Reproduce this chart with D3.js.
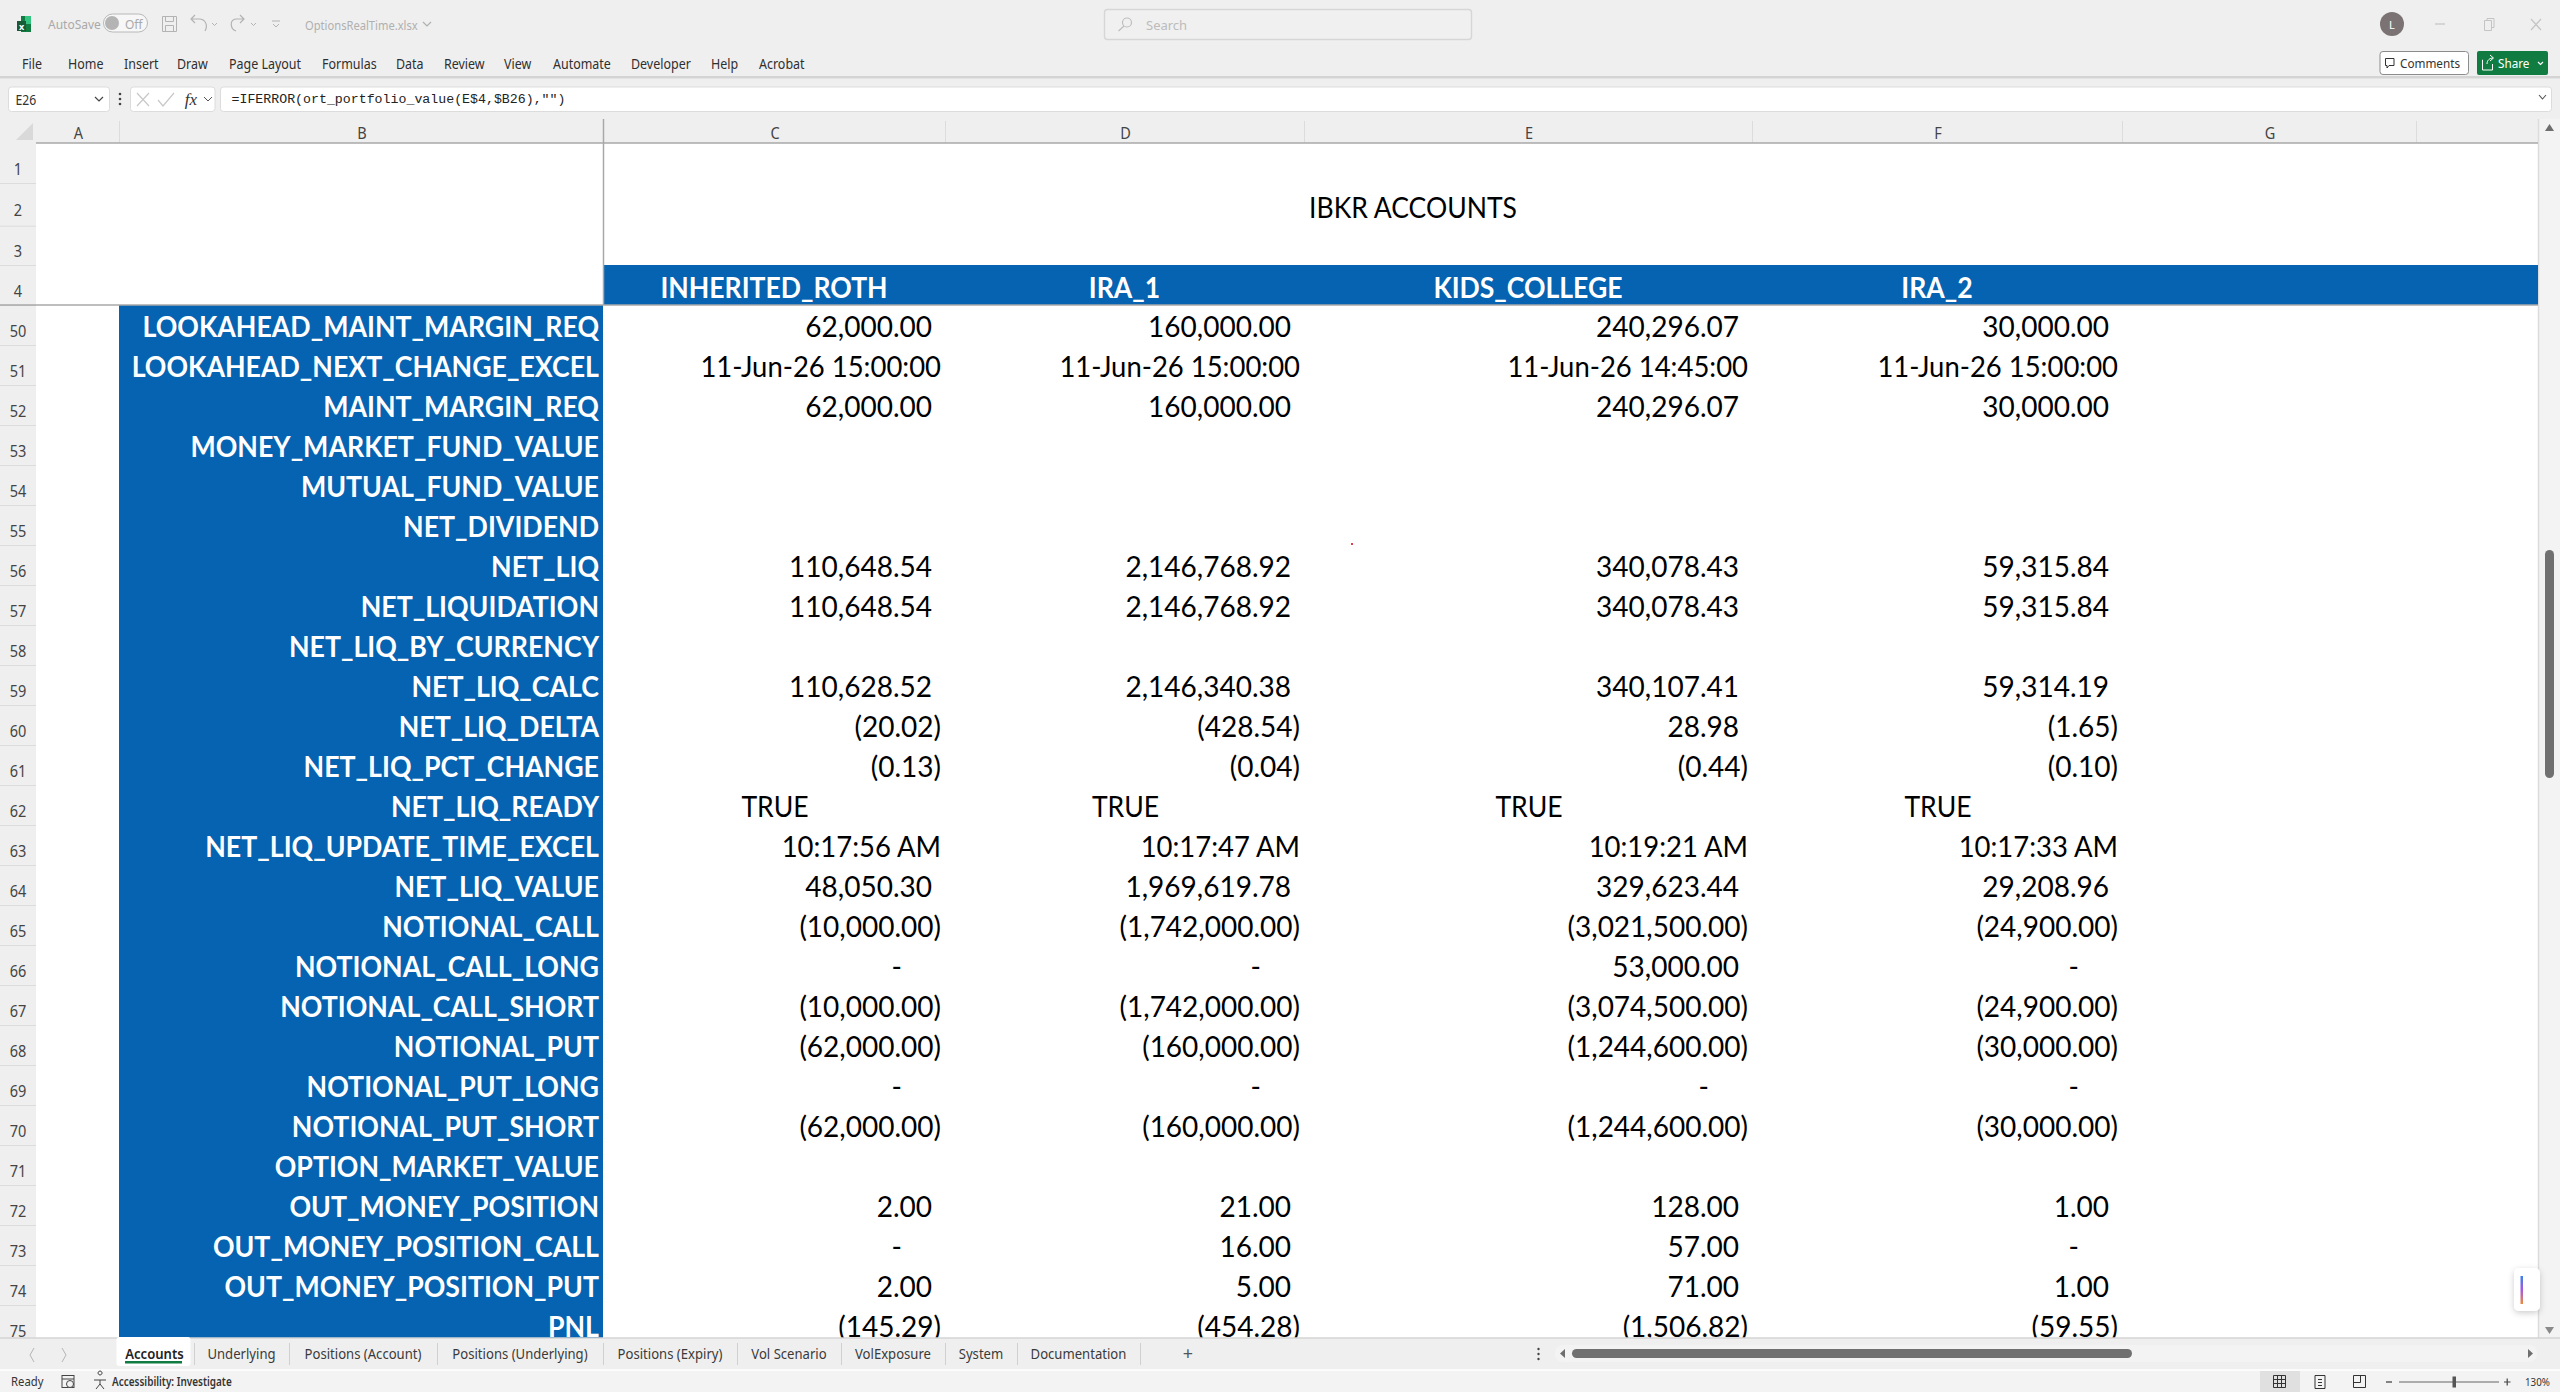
<!DOCTYPE html>
<html>
<head>
<meta charset="utf-8">
<script src="https://cdn.jsdelivr.net/npm/d3@7"></script>
<style>
  html, body { margin: 0; padding: 0; background: #fff; overflow: hidden; }
  svg { display: block; }
  text { font-family: "Noto Sans", sans-serif; }
  text.cell { font-family: Lato, "Liberation Sans", sans-serif; }
  text.mono { font-family: "Liberation Mono", monospace; }
  text.serif { font-family: "Liberation Serif", serif; }
</style>
</head>
<body>
<svg id="sheet" width="2560" height="1392"></svg>
<script>
// ---- data ----
const topRows = [1, 2, 3, 4]
const rowNumbers = d3.range(50, 76)
const columnLetters = ["A", "B", "C", "D", "E", "F", "G"]
const accounts = ["INHERITED_ROTH", "IRA_1", "KIDS_COLLEGE", "IRA_2"]
const accountColumns = ["C", "D", "E", "F"]
const title = "IBKR ACCOUNTS"

const rowLabels = [
  "LOOKAHEAD_MAINT_MARGIN_REQ", "LOOKAHEAD_NEXT_CHANGE_EXCEL", "MAINT_MARGIN_REQ",
  "MONEY_MARKET_FUND_VALUE", "MUTUAL_FUND_VALUE", "NET_DIVIDEND", "NET_LIQ", "NET_LIQUIDATION",
  "NET_LIQ_BY_CURRENCY", "NET_LIQ_CALC", "NET_LIQ_DELTA", "NET_LIQ_PCT_CHANGE", "NET_LIQ_READY",
  "NET_LIQ_UPDATE_TIME_EXCEL", "NET_LIQ_VALUE", "NOTIONAL_CALL", "NOTIONAL_CALL_LONG",
  "NOTIONAL_CALL_SHORT", "NOTIONAL_PUT", "NOTIONAL_PUT_LONG", "NOTIONAL_PUT_SHORT",
  "OPTION_MARKET_VALUE", "OUT_MONEY_POSITION", "OUT_MONEY_POSITION_CALL", "OUT_MONEY_POSITION_PUT", "PNL"
]

// null = empty cell, strings are dates / times / booleans
const inheritedRoth = [62000, "11-Jun-26 15:00:00", 62000, null, null, null, 110648.54, 110648.54, null,
  110628.52, -20.02, -0.13, true, "10:17:56 AM", 48050.30, -10000, 0, -10000, -62000, 0, -62000, null, 2, 0, 2, -145.29]
const ira1 = [160000, "11-Jun-26 15:00:00", 160000, null, null, null, 2146768.92, 2146768.92, null,
  2146340.38, -428.54, -0.04, true, "10:17:47 AM", 1969619.78, -1742000, 0, -1742000, -160000, 0, -160000, null, 21, 16, 5, -454.28]
const kidsCollege = [240296.07, "11-Jun-26 14:45:00", 240296.07, null, null, null, 340078.43, 340078.43, null,
  340107.41, 28.98, -0.44, true, "10:19:21 AM", 329623.44, -3021500, 53000, -3074500, -1244600, 0, -1244600, null, 128, 57, 71, -1506.82]
const ira2 = [30000, "11-Jun-26 15:00:00", 30000, null, null, null, 59315.84, 59315.84, null,
  59314.19, -1.65, -0.10, true, "10:17:33 AM", 29208.96, -24900, 0, -24900, -30000, 0, -30000, null, 1, 0, 1, -59.55]
const accountValues = [inheritedRoth, ira1, kidsCollege, ira2]

const menuItems = ["File", "Home", "Insert", "Draw", "Page Layout", "Formulas", "Data", "Review", "View", "Automate", "Developer", "Help", "Acrobat"]
const sheetTabs = ["Accounts", "Underlying", "Positions (Account)", "Positions (Underlying)", "Positions (Expiry)", "Vol Scenario", "VolExposure", "System", "Documentation"]
const formula = '=IFERROR(ort_portfolio_value(E$4,$B26),"")'

// ---- layout ----
const blue = "#0563b1", chrome = "#efefef", headText = "#444"
const gridRight = 2538, gridBottom = 1338
const columnEdges = [36, 119, 603, 945, 1304, 1752, 2122, 2416]
const menuX = [22, 68, 124, 177, 229, 322, 396, 444, 504, 553, 631, 711, 759]
const tabEdges = [116, 194, 289, 437, 603, 737, 841, 945, 1017, 1140]

const svg = d3.select("#sheet")

// ordinal scales for the unequal column edges
const colLeft = d3.scaleOrdinal(columnLetters, columnEdges.slice(0, 7))
const colRight = d3.scaleOrdinal(columnLetters, columnEdges.slice(1))
const colMid = c => (colLeft(c) + colRight(c)) / 2
const yTop = d3.scaleOrdinal(topRows, [143, 183, 225.7, 265])
const yTopEnd = d3.scaleOrdinal(topRows, [183, 225.7, 265, 305])
const yBody = d3.scaleBand(rowNumbers, [305, 305 + 40 * rowNumbers.length])

const money = d3.format(",.2f")
function cellText(v) {
  if (v === true) return "TRUE"
  if (typeof v === "string") return v
  if (v === 0) return "-"
  return v < 0 ? "(" + money(-v) + ")" : money(v)
}
// accounting format: positives sit one bracket in from the right edge, dash further in
function cellPad(v) {
  if (typeof v === "string" || v < 0) return 4
  if (v === 0) return 43
  return 13
}

// narrows text by factor k without changing its height
function squeeze(sel, k) {
  sel.each(function (d, i) {
    const f = typeof k === "function" ? k(d, i) : k
    const len = this.getComputedTextLength()
    d3.select(this).attr("textLength", len * f).attr("lengthAdjust", "spacingAndGlyphs")
  })
  return sel
}

function rect(x, y, w, h, fill) {
  return svg.append("rect").attr("x", x).attr("y", y).attr("width", w).attr("height", h).attr("fill", fill)
}
function line(x1, y1, x2, y2, stroke, sw) {
  return svg.append("line").attr("x1", x1).attr("y1", y1).attr("x2", x2).attr("y2", y2).attr("stroke", stroke).attr("stroke-width", sw || 1)
}
function label(x, y, s, size, fill, anchor) {
  return svg.append("text").attr("x", x).attr("y", y).attr("font-size", size).attr("fill", fill)
    .attr("text-anchor", anchor || "start").attr("dominant-baseline", "central").text(s)
}
function path(d, stroke, sw, fill) {
  return svg.append("path").attr("d", d).attr("stroke", stroke).attr("stroke-width", sw || 1).attr("fill", fill || "none")
}

// ---- window chrome ----
rect(0, 0, 2560, 119, chrome)
rect(0, 76, 2560, 2, "#d4d4d4")
rect(0, 78, 2560, 1, "#e3e3e3")

// excel logo
rect(21, 16, 10, 16, "#107c41")
rect(25, 16, 6, 8, "#33c481")
rect(17, 21, 9, 10, "#185c37")
label(21.5, 26, "x", 9, "#fff", "middle").attr("font-weight", 700)

label(48, 24, "AutoSave", 12, "#a9a9a9")
svg.append("rect").attr("x", 103.5).attr("y", 14).attr("width", 44).attr("height", 18).attr("rx", 9).attr("fill", "#f7f7f7").attr("stroke", "#b8b8b8")
svg.append("circle").attr("cx", 112).attr("cy", 23).attr("r", 7).attr("fill", "#b4b4b4")
label(125, 24, "Off", 12, "#a9a9a9")
path("M162.5 16.5h14v15h-14zM165.5 16.5v5h8v-5M165.5 31.5v-6h8v6", "#b3b3b3")
path("M205 31c3-5 1-12-6-12h-7M195 15l-4 4 4 4", "#b3b3b3", 1.2)
path("M212 23l2.5 2.5 2.5-2.5", "#b3b3b3")
path("M236 31c-6-2-7-12 1-12h7M240 15l4 4-4 4", "#b3b3b3", 1.2)
path("M251 23l2.5 2.5 2.5-2.5", "#b3b3b3")
path("M272 21h8M273 24l3 3 3-3", "#b3b3b3")
label(305, 25, "OptionsRealTime.xlsx", 12, "#b0b0b0").call(squeeze, 0.93)
path("M423 22l4 4 4-4", "#b0b0b0", 1.2)

// search box
svg.append("rect").attr("x", 1104.5).attr("y", 9.5).attr("width", 367).attr("height", 30).attr("rx", 3).attr("fill", "#f0f0f0").attr("stroke", "#d6d6d6").attr("stroke-width", 1.4)
svg.append("circle").attr("cx", 1127).attr("cy", 22.5).attr("r", 4.5).attr("fill", "none").attr("stroke", "#bdbdbd").attr("stroke-width", 1.2)
line(1124, 26, 1118.5, 31, "#bdbdbd", 1.2)
label(1146, 24.5, "Search", 13, "#bcbcbc")

// avatar + window buttons
svg.append("circle").attr("cx", 2392).attr("cy", 24).attr("r", 12).attr("fill", "#7b7373")
label(2392, 24.5, "L", 11, "#fff", "middle")
line(2435, 24, 2445, 24, "#c4c4c4", 1.2)
path("M2484.5 20.5h7v10h-7zM2487 20.5v-2h7v9h-2.5", "#c4c4c4")
path("M2531 19l10 11M2541 19l-10 11", "#c4c4c4", 1.2)

// ribbon menu
svg.append("g").selectAll("text").data(menuItems).join("text")
  .attr("x", (d, i) => menuX[i]).attr("y", 63).attr("font-size", 14).attr("fill", "#2f2f2f")
  .attr("dominant-baseline", "central").text(d => d)
  .call(squeeze, 0.89)

svg.append("rect").attr("x", 2380).attr("y", 51.5).attr("width", 88.5).attr("height", 23).attr("rx", 3).attr("fill", "#fff").attr("stroke", "#8c8c8c")
path("M2385.5 58.5h8.5v7h-5l-2 2.5v-2.5h-1.5z", "#333", 1)
label(2400, 63, "Comments", 13, "#333").call(squeeze, 0.9)
svg.append("rect").attr("x", 2477).attr("y", 51).attr("width", 71).attr("height", 24).attr("rx", 2).attr("fill", "#107c41")
path("M2483 60h-0.5v10h10v-6M2487 64c0-4 3-6 6-6M2490 55l3.5 3-3.5 3", "#fff", 1)
label(2498, 63, "Share", 13, "#fff").call(squeeze, 0.9)
path("M2538 62l2.5 2.5 2.5-2.5", "#fff", 1.2)

// formula bar
svg.append("rect").attr("x", 8.5).attr("y", 87).attr("width", 101).attr("height", 24.5).attr("rx", 3).attr("fill", "#fff").attr("stroke", "#dcdcdc")
label(15.5, 99.5, "E26", 13.5, "#333").call(squeeze, 0.9)
path("M95 97l4 4 4-4", "#444", 1.2)
svg.append("circle").attr("cx", 120).attr("cy", 94).attr("r", 1.3).attr("fill", "#444")
svg.append("circle").attr("cx", 120).attr("cy", 99).attr("r", 1.3).attr("fill", "#444")
svg.append("circle").attr("cx", 120).attr("cy", 104).attr("r", 1.3).attr("fill", "#444")
svg.append("rect").attr("x", 130.5).attr("y", 87).attr("width", 84.5).attr("height", 24.5).attr("rx", 3).attr("fill", "#fff").attr("stroke", "#dcdcdc")
path("M137 93l12 13M149 93l-12 13", "#c8c8c8", 1.2)
path("M158 100l5 6 11-13", "#c8c8c8", 1.2)
label(191, 99, "fx", 17, "#333", "middle").attr("class", "serif").attr("font-style", "italic")
path("M204 97l4 4 4-4", "#555", 1)
svg.append("rect").attr("x", 220.5).attr("y", 87).attr("width", 2331).attr("height", 24.5).attr("rx", 3).attr("fill", "#fff").attr("stroke", "#dcdcdc")
label(231.5, 99.5, formula, 13.25, "#222").attr("class", "mono")
path("M2539 95l3.5 4 3.5-4", "#555", 1.1)

// ---- column and row headers ----
rect(0, 119, 2538, 24, chrome)
rect(0, 143, 36, gridBottom - 143, chrome)
rect(2538, 119, 22, gridBottom - 119, "#f3f3f3")
line(2538.5, 119, 2538.5, gridBottom, "#dcdcdc", 1.5)
path("M33 123v17h-17z", "none", 0, "#d9d9d9")

svg.append("g").selectAll("text").data(columnLetters).join("text")
  .attr("x", d => colMid(d) + 1).attr("y", 132).attr("font-size", 16.5).attr("fill", headText)
  .attr("text-anchor", "middle").attr("dominant-baseline", "central").text(d => d)
  .call(squeeze, 0.88)
svg.append("g").selectAll("line").data(columnEdges.slice(1)).join("line")
  .attr("x1", d => d + 0.5).attr("x2", d => d + 0.5).attr("y1", 121).attr("y2", 143)
  .attr("stroke", "#dcdcdc")

const rowHead = svg.append("g").attr("clip-path", "url(#gridClip)")
svg.append("clipPath").attr("id", "gridClip").append("rect").attr("x", 0).attr("y", 143).attr("width", 2538).attr("height", gridBottom - 143)

rowHead.selectAll(".topnum").data(topRows).join("text").attr("class", "topnum")
  .attr("x", 18).attr("y", d => (yTop(d) + yTopEnd(d)) / 2 + 5.5).attr("font-size", 16.5).attr("fill", headText)
  .attr("text-anchor", "middle").attr("dominant-baseline", "central").text(d => d)
  .call(squeeze, 0.88)
rowHead.selectAll(".bodynum").data(rowNumbers).join("text").attr("class", "bodynum")
  .attr("x", 18).attr("y", d => yBody(d) + yBody.bandwidth() / 2 + 5.5).attr("font-size", 16.5).attr("fill", headText)
  .attr("text-anchor", "middle").attr("dominant-baseline", "central").text(d => d)
  .call(squeeze, 0.88)
rowHead.selectAll(".topsep").data(topRows).join("line").attr("class", "topsep")
  .attr("x1", 0).attr("x2", 36).attr("y1", d => yTopEnd(d) + 0.5).attr("y2", d => yTopEnd(d) + 0.5).attr("stroke", "#dcdcdc")
rowHead.selectAll(".bodysep").data(rowNumbers).join("line").attr("class", "bodysep")
  .attr("x1", 0).attr("x2", 36).attr("y1", d => yBody(d) + yBody.bandwidth() + 0.5).attr("y2", d => yBody(d) + yBody.bandwidth() + 0.5).attr("stroke", "#dcdcdc")

// ---- sheet body ----
const body = svg.append("g").attr("clip-path", "url(#gridClip)")

body.append("rect").attr("x", colLeft("B")).attr("y", yBody(50))
  .attr("width", colRight("B") - colLeft("B")).attr("height", gridBottom - yBody(50)).attr("fill", blue)
body.append("rect").attr("x", colLeft("C")).attr("y", yTop(4))
  .attr("width", gridRight - colLeft("C")).attr("height", yTopEnd(4) - yTop(4)).attr("fill", blue)

body.append("text").attr("class", "cell").attr("x", 1413).attr("y", 217.5).attr("font-size", 29)
  .attr("text-anchor", "middle").attr("fill", "#000").text(title)
  .call(squeeze, 0.915)

body.selectAll(".acct").data(accounts).join("text").attr("class", "cell acct")
  .attr("x", (d, i) => colMid(accountColumns[i])).attr("y", 297.5).attr("font-size", 28)
  .attr("font-weight", 700).attr("text-anchor", "middle").attr("fill", "#fff").text(d => d)
  .call(squeeze, 0.95)

body.selectAll(".rowlabel").data(rowLabels).join("text").attr("class", "cell rowlabel")
  .attr("x", colRight("B") - 4).attr("y", (d, i) => yBody(rowNumbers[i]) + 32.2).attr("font-size", 28)
  .attr("font-weight", 700).attr("text-anchor", "end").attr("fill", "#fff").text(d => d)
  .call(squeeze, 0.955)

accountValues.forEach((values, c) => {
  const col = accountColumns[c]
  body.append("g").selectAll("text").data(values.map((v, i) => ({ v, row: rowNumbers[i] })).filter(d => d.v !== null)).join("text")
    .attr("class", "cell")
    .attr("x", d => d.v === true ? colMid(col) + 1 : colRight(col) - cellPad(d.v))
    .attr("y", d => yBody(d.row) + 32.2)
    .attr("font-size", 28)
    .attr("text-anchor", d => d.v === true ? "middle" : "end")
    .attr("fill", "#000")
    .text(d => cellText(d.v))
    .call(squeeze, d => d.v === true ? 0.95 : typeof d.v === "string" ? 0.98 : 1)
})

// frozen pane lines
line(603.5, 119, 603.5, 305, "#a8a8a8", 1.5)
line(0, 305, gridRight, 305, "#a8a8a8", 1.5)
line(36, 143, gridRight, 143, "#a8a8a8", 1.5)
rect(1351, 543, 2, 2, "#e0404a")

// vertical scroll bar
path("M2545 131l4.5-7 4.5 7z", "none", 0, "#6e6e6e")
svg.append("rect").attr("x", 2545).attr("y", 550).attr("width", 9).attr("height", 228).attr("rx", 4.5).attr("fill", "#707070")
path("M2545 1327l4.5 7 4.5-7z", "none", 0, "#8a8a8a")

// copilot widget
const defs = svg.append("defs")
const grad = defs.append("linearGradient").attr("id", "copilot").attr("x1", 0).attr("x2", 0).attr("y1", 0).attr("y2", 1)
grad.append("stop").attr("offset", 0).attr("stop-color", "#3b82e8")
grad.append("stop").attr("offset", 0.5).attr("stop-color", "#a45ae0")
grad.append("stop").attr("offset", 1).attr("stop-color", "#f08a3c")
const blur = defs.append("filter").attr("id", "soft").attr("x", "-30%").attr("y", "-30%").attr("width", "160%").attr("height", "160%")
blur.append("feDropShadow").attr("dx", 0).attr("dy", 2).attr("stdDeviation", 3).attr("flood-color", "#000").attr("flood-opacity", 0.2)
svg.append("rect").attr("x", 2514).attr("y", 1268).attr("width", 26).attr("height", 43).attr("rx", 5).attr("fill", "#fff").attr("filter", "url(#soft)")
svg.append("rect").attr("x", 2520.5).attr("y", 1276).attr("width", 2.5).attr("height", 28).attr("fill", "url(#copilot)")

// ---- sheet tabs ----
rect(0, gridBottom, 2560, 32, chrome)
line(0, gridBottom, 2560, gridBottom, "#d4d4d4", 1.5)
path("M34 1348l-4 7 4 7M62 1348l4 7-4 7", "#b5b5b5", 1)
svg.append("rect").attr("x", 116.5).attr("y", gridBottom - 1).attr("width", 74).attr("height", 29).attr("rx", 3).attr("fill", "#fff")
svg.append("g").selectAll("text").data(sheetTabs).join("text")
  .attr("x", (d, i) => (tabEdges[i] + tabEdges[i + 1]) / 2 + (i === 0 ? -0.5 : 0)).attr("y", 1354).attr("font-size", 13.5)
  .attr("font-weight", (d, i) => i === 0 ? 600 : 400).attr("fill", (d, i) => i === 0 ? "#222" : "#3a3a3a")
  .attr("text-anchor", "middle").attr("dominant-baseline", "central").text(d => d)
  .call(squeeze, 0.97)
svg.append("g").selectAll("line").data(tabEdges.slice(1)).join("line")
  .attr("x1", d => d + 0.5).attr("x2", d => d + 0.5).attr("y1", 1343).attr("y2", 1365).attr("stroke", "#d0d0d0")
rect(125, 1361, 57, 2.5, "#107c41")
label(1188, 1353, "+", 18, "#555", "middle")

// horizontal scroll bar
svg.append("rect").attr("x", 1555).attr("y", 1345).attr("width", 982).attr("height", 17).attr("rx", 8).attr("fill", "#f3f3f3")
svg.append("rect").attr("x", 1572).attr("y", 1349).attr("width", 560).attr("height", 9).attr("rx", 4.5).attr("fill", "#707070")
path("M1565 1349l-5 4.5 5 4.5z", "none", 0, "#6e6e6e")
path("M2528 1349l5 4.5-5 4.5z", "none", 0, "#6e6e6e")
;[1349, 1354, 1359].forEach(y => svg.append("circle").attr("cx", 1538.5).attr("cy", y).attr("r", 1.2).attr("fill", "#444"))

// ---- status bar ----
rect(0, 1370, 2560, 22, "#f3f3f3")
line(0, 1370, 2560, 1370, "#fff", 1.5)
label(11, 1381, "Ready", 12, "#333").call(squeeze, 0.94)
svg.append("rect").attr("x", 62).attr("y", 1375.5).attr("width", 12).attr("height", 12).attr("fill", "none").attr("stroke", "#444")
svg.append("circle").attr("cx", 70).attr("cy", 1384).attr("r", 3.5).attr("fill", "#f3f3f3").attr("stroke", "#444")
line(62, 1379, 74, 1379, "#444")
path("M100 1375a2 2 0 1 1 .1 0M94 1380h12M100 1380v4l-4 5M100 1384l4 5", "#444", 1)
label(112, 1381, "Accessibility: Investigate", 12, "#333").attr("font-weight", 600).call(squeeze, 0.83)

rect(2260, 1371, 40, 21, "#e0e0e0")
path("M2273.5 1375.5h12v12h-12zM2273.5 1379.5h12M2273.5 1383.5h12M2277.5 1375.5v12M2281.5 1375.5v12", "#333")
path("M2315 1375.5h10v13h-10zM2318 1379.5h4M2318 1382.5h4M2318 1385.5h4", "#333")
path("M2353.5 1375.5h12v12h-12zM2360.5 1375.5v7h-7", "#333")
line(2386, 1382, 2392, 1382, "#444", 1.3)
line(2399, 1382, 2499, 1382, "#666", 1.2)
rect(2452.5, 1376.5, 3.5, 11, "#555")
path("M2504 1382h6.5M2507.2 1378.5v7", "#444", 1.2)
label(2525, 1381, "130%", 11.5, "#333").call(squeeze, 0.85)
</script>
</body>
</html>
